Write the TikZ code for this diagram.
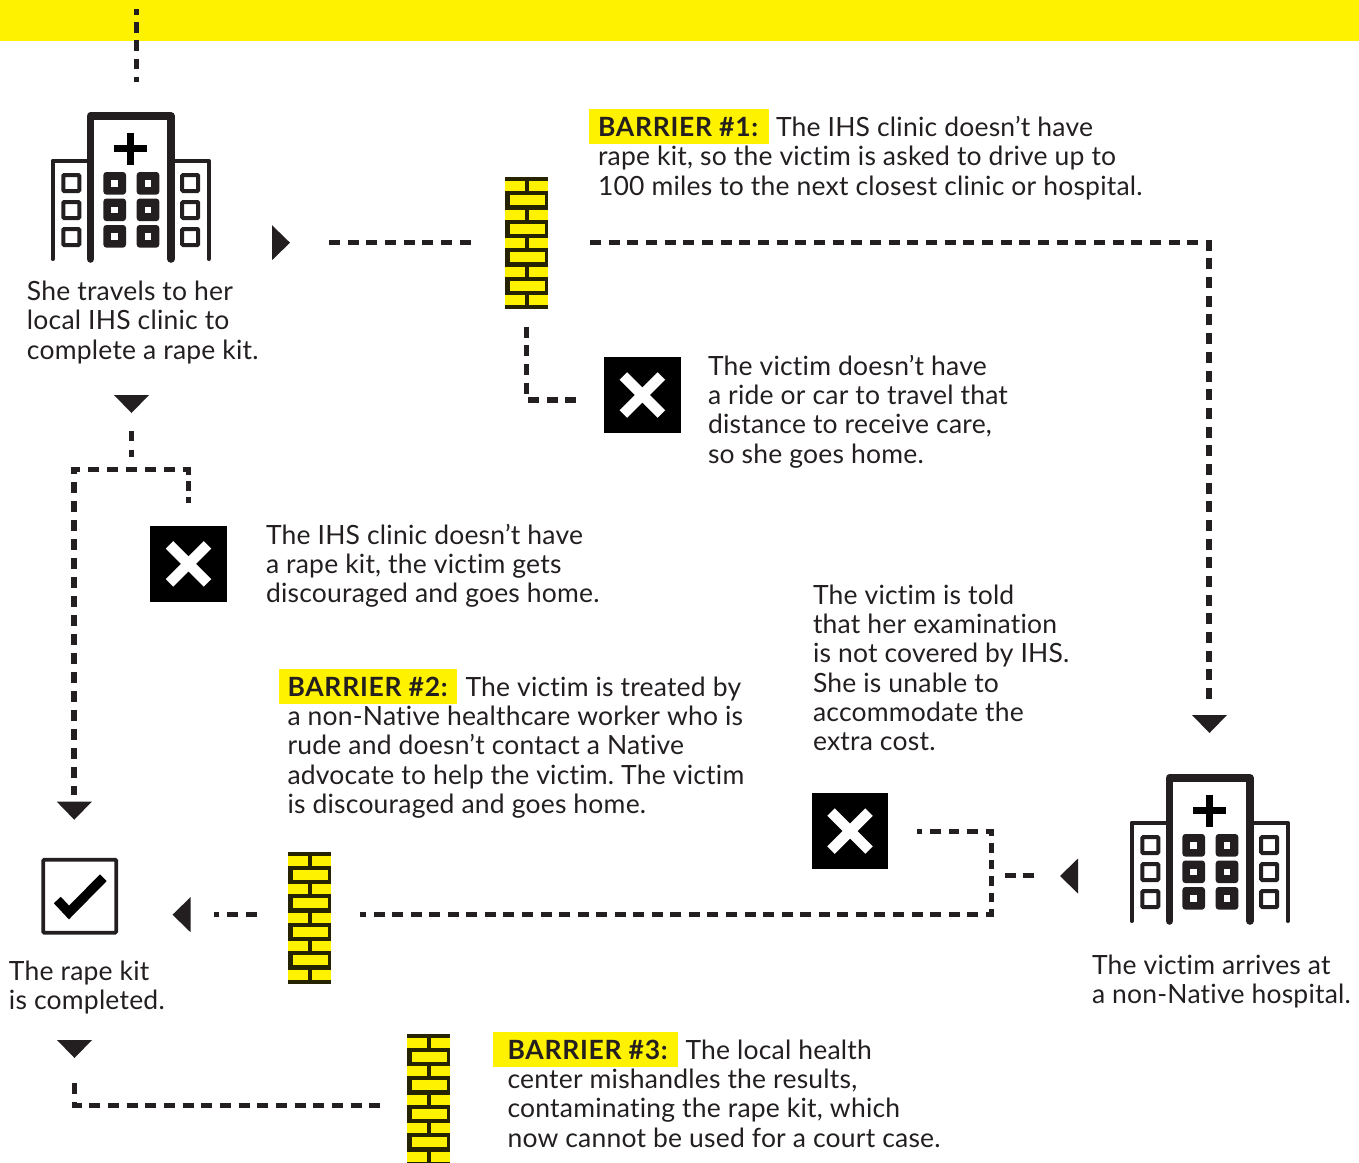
\documentclass[tikz,border=0pt]{standalone}
\usepackage{fontspec}
\setmainfont{Lato}[LetterSpace=0.8,Ligatures=NoCommon,BoldFeatures={LetterSpace=2.7}]
\usetikzlibrary{calc}
\definecolor{ink}{HTML}{231F20}
\definecolor{hl}{HTML}{FFF200}
\newcommand{\barrierlabel}[1]{\makebox[178pt][l]{\textbf{BARRIER \##1:}}}
\frenchspacing
\tikzset{
  x=1pt,y=-1pt,
  conn/.style={draw=ink,line width=5.5pt,dash pattern=on 11pt off 7.67pt},
  body/.style={anchor=north west,inner sep=0pt,outer sep=0pt,align=left,text=ink,
    font=\fontsize{26.5}{29.3}\selectfont,execute at begin node={\rule{0pt}{20pt}}},
  slot/.style={inner sep=0pt,outer sep=0pt,minimum width=#1,minimum height=#1},
  wallslot/.style={inner sep=0pt,outer sep=0pt,minimum width=43pt,minimum height=132pt},
  hlbox/.style={fill=hl,draw=none},
  triD/.pic={\fill[ink] (-17.5,-9)--(17.5,-9)--(0,9)--cycle;},
  triR/.pic={\fill[ink] (-9,-17.5)--(-9,17.5)--(9,0)--cycle;},
  triL/.pic={\fill[ink] (9,-17.5)--(9,17.5)--(-9,0)--cycle;},
  wallpic/.pic={
    \fill[black!85!hl] (0,0) rectangle (43,132);
    \foreach \y in {4,32.5,61,89.5,118}{
      \fill[hl] (0,\y) rectangle (19.5,\y+10);
      \fill[hl] (23.5,\y) rectangle (43,\y+10);}
    \foreach \y in {18,46.5,75,103.5}{
      \fill[hl] (4.5,\y) rectangle (39.5,\y+10);}
  },
  xpic/.pic={
    \fill[black] (-38.2,-38.2) rectangle (38.2,38.2);
    \draw[white,line width=10.6pt] (-19,-19)--(19,19) (-19,19)--(19,-19);
  },
  hosp/.pic={
    \draw[ink,line width=7.6pt,line join=round,line cap=round] (-40.2,143)--(-40.2,0)--(40.2,0)--(40.2,143);
    \draw[ink,line width=4pt,line join=round,line cap=round] (-78,143)--(-78,44.7)--(-42,44.7);
    \draw[ink,line width=4pt,line join=round,line cap=round] (42,44.7)--(78,44.7)--(78,143);
    \draw[black,line width=7.3pt] (-16.4,32.7)--(16.3,32.7) (0,16.5)--(0,48.8);
    \foreach \y in {59,86,113}{
      \draw[ink,line width=4pt,rounded corners=1pt] (-67.4,\y)rectangle(-51.4,\y+16);
      \draw[ink,line width=4pt,rounded corners=1pt] (51.5,\y)rectangle(67.5,\y+16);}
    \foreach \y in {56,82.5,109}\foreach \xx in {-27.3,6}{
      \fill[ink,rounded corners=3pt] (\xx,\y) rectangle (\xx+22.6,\y+22.6);
      \fill[white] (\xx+8,\y+8) rectangle (\xx+14.7,\y+14.7);}
  },
}
\begin{document}
\begin{tikzpicture}
\useasboundingbox (0,0) rectangle (1359,1162);
\fill[hl] (0,0) rectangle (1359,41);

% icons
\node[slot=1pt] (hospA) at (130.7,116) {};
\pic at (hospA) {hosp};
\node[slot=1pt] (hospB) at (1209.7,778) {};
\pic at (hospB) {hosp};
\node[wallslot] (wallA) at (526.5,243) {};
\pic at (505,177) {wallpic};
\node[wallslot] (wallB) at (309.5,917.5) {};
\pic at (288,851.5) {wallpic};
\node[wallslot] (wallC) at (428.5,1099.5) {};
\pic at (407,1033.5) {wallpic};
\node[slot=76pt] (xA) at (642.3,395) {};
\pic at (xA) {xpic};
\node[slot=76pt] (xB) at (188.5,563.8) {};
\pic at (xB) {xpic};
\node[slot=76pt] (xC) at (850,831) {};
\pic at (xC) {xpic};
\node[slot=73pt,draw=ink,line width=3.6pt,rounded corners=1pt] (done) at (79.7,896.2) {};
\draw[black,line width=9.5pt] (57.3,900)--(69,912.5)--(103.3,877.7);

% triangles
\pic at (281,242.7) {triR};
\pic at (131.5,404) {triD};
\pic at (74.3,810.7) {triD};
\pic at (181.5,914.7) {triL};
\pic at (1209.5,724) {triD};
\pic at (1069,876) {triL};
\pic at (74.5,1049) {triD};

% connectors
\coordinate (topS) at (136.7,9.3);
\coordinate (topE) at (136.7,82);
\draw[conn,dash pattern=on 10.7pt off 7.5pt,dash phase=5.4pt] (topS)--(topE);
\coordinate (aL) at (329,242.7);
\coordinate (aR) at (471,242.7);
\draw[conn] (aL)--(aR);
\coordinate (bS) at (590,242.7);
\coordinate (turnA) at (1209,242.7);
\coordinate (bE) at (1209,699);
\draw[conn] (bS)--(turnA)--(bE);
\coordinate (cS) at (526.7,326.7);
\coordinate (cornerA) at (526.7,400);
\coordinate (cE) at (576.3,400);
\draw[conn] (cS)--(cornerA)--(cE);
\coordinate (forkTop) at (131.3,430.7);
\coordinate (forkEnd) at (131.3,456.7);
\draw[conn,dash pattern=on 10.3pt off 8.7pt] (forkTop)--(forkEnd);
\coordinate (stubS) at (188.3,503.3);
\coordinate (stubE) at (188.3,478);
\draw[conn,dash pattern=on 6.3pt off 5.7pt on 10pt off 9pt] (stubS)--(stubE);
\coordinate (mainS) at (188.3,475);
\coordinate (mainR) at (188.3,469.3);
\coordinate (mainL) at (74,469.3);
\coordinate (mainE) at (74,794.7);
\draw[conn,dash pattern=on 11pt off 8pt] (mainS)--(mainR)--(mainL)--(mainE);
\coordinate (dS) at (991.3,836);
\coordinate (dC) at (991.3,831.3);
\coordinate (dE) at (917.3,831.3);
\draw[conn,dash pattern=on 10.5pt off 7.9pt] (dS)--(dC)--(dE);
\coordinate (eS) at (991.3,843.3);
\coordinate (eE) at (991.3,902.4);
\draw[conn,dash pattern=on 9.6pt off 6.9pt] (eS)--(eE);
\coordinate (fS) at (991.3,909.3);
\coordinate (fC) at (991.3,914.7);
\coordinate (fE) at (360,914.7);
\draw[conn,dash pattern=on 11pt off 7.55pt] (fS)--(fC)--(fE);
\coordinate (gS) at (1034.3,875.7);
\coordinate (gE) at (1004.7,875.7);
\draw[conn] (gS)--(gE);
\coordinate (hS) at (256.7,914.7);
\coordinate (hE) at (213.7,914.7);
\draw[conn] (hS)--(hE);
\coordinate (iS) at (74.3,1083.3);
\coordinate (iC) at (74.3,1105.7);
\coordinate (iE) at (381,1105.7);
\draw[conn] (iS)--(iC)--(iE);

% highlights
\fill[hlbox] (589,109) rectangle (769,144);
\fill[hlbox] (279,669) rectangle (457,704);
\fill[hlbox] (493,1032) rectangle (678,1067);

% text
\node[body] (t1) at (27,281) {She travels to her\\local IHS clinic to\\complete a rape kit.};
\node[body] (t2) at (598,116.3) {\barrierlabel{1}The IHS clinic doesn’t have\\rape kit, so the victim is asked to drive up to\\100 miles to the next closest clinic or hospital.};
\node[body] (t3) at (708,355) {The victim doesn’t have\\a ride or car to travel that\\distance to receive care,\\so she goes home.};
\node[body] (t4) at (266,524) {The IHS clinic doesn’t have\\a rape kit, the victim gets\\discouraged and goes home.};
\node[body] (t5) at (813,584.7) {The victim is told\\that her examination\\is not covered by IHS.\\She is unable to\\accommodate the\\extra cost.};
\node[body] (t6) at (287.5,676.7) {\barrierlabel{2}The victim is treated by\\a non-Native healthcare worker who is\\rude and doesn’t contact a Native\\advocate to help the victim. The victim\\is discouraged and goes home.};
\node[body] (t7) at (9,961) {The rape kit\\is completed.};
\node[body] (t8) at (1092,955) {The victim arrives at\\a non-Native hospital.};
\node[body] (t9) at (507.5,1039.7) {\barrierlabel{3}The local health\\center mishandles the results,\\contaminating the rape kit, which\\now cannot be used for a court case.};
\end{tikzpicture}
\end{document}
